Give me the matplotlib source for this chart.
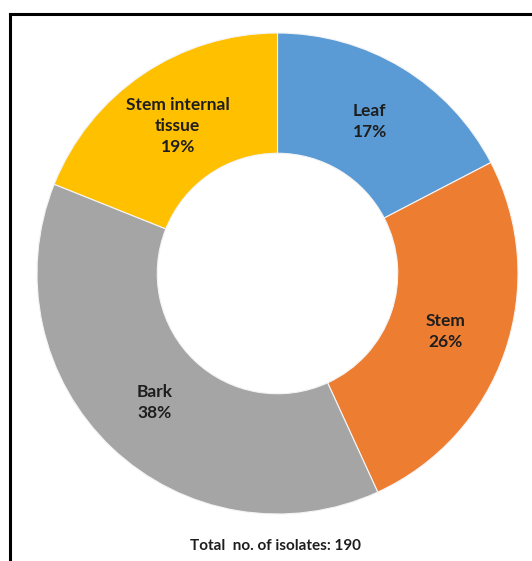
import numpy as np
import matplotlib
matplotlib.use("Agg")
import matplotlib.pyplot as plt
from matplotlib.lines import Line2D

categories = ["Leaf", "Stem", "Bark", "Stem internal\ntissue"]
counts = [33, 49, 72, 36]
colors = ["#5B9BD5", "#ED7D31", "#A5A5A5", "#FFC000"]
total_label = "Total  no. of isolates: 190"

plt.rcParams['font.family'] = ['Lato', 'DejaVu Sans']

W, H = 532, 561
fig = plt.figure(figsize=(W / 100, H / 100), dpi=100)
cx, cy, r = 277.5, 273.5, 240.5
ax = fig.add_axes([(cx - r) / W, 1 - (cy + r) / H, 2 * r / W, 2 * r / H])

wedges, _ = ax.pie(counts, colors=colors, startangle=90, counterclock=False,
                   radius=1.0, wedgeprops=dict(width=0.5, edgecolor='#f4f4f4', linewidth=0.8))
ax.set_xlim(-1, 1)
ax.set_ylim(-1, 1)
ax.set_aspect('equal')
ax.axis('off')

tot = sum(counts)
for w, cat, c in zip(wedges, categories, counts):
    ang = np.deg2rad((w.theta1 + w.theta2) / 2)
    d = 0.74
    pct = round(100 * c / tot)
    ax.text(d * np.cos(ang), d * np.sin(ang), f"{cat}\n{pct}%", ha='center', va='center',
            fontsize=12.5, fontweight='bold', color='#1e1e1e', linespacing=1.4)

fig.text(276 / W, 1 - 546 / H, total_label, ha='center', va='center',
         fontsize=11, fontweight='bold', color='#1e1e1e')

x0 = 10 / W
y0 = 1 - 14 / H
fig.add_artist(Line2D([x0, x0], [0, y0], transform=fig.transFigure, color='black', lw=2.2))
fig.add_artist(Line2D([x0, 1], [y0, y0], transform=fig.transFigure, color='black', lw=2.2))

fig.savefig("out.png", dpi=100, facecolor='white')
